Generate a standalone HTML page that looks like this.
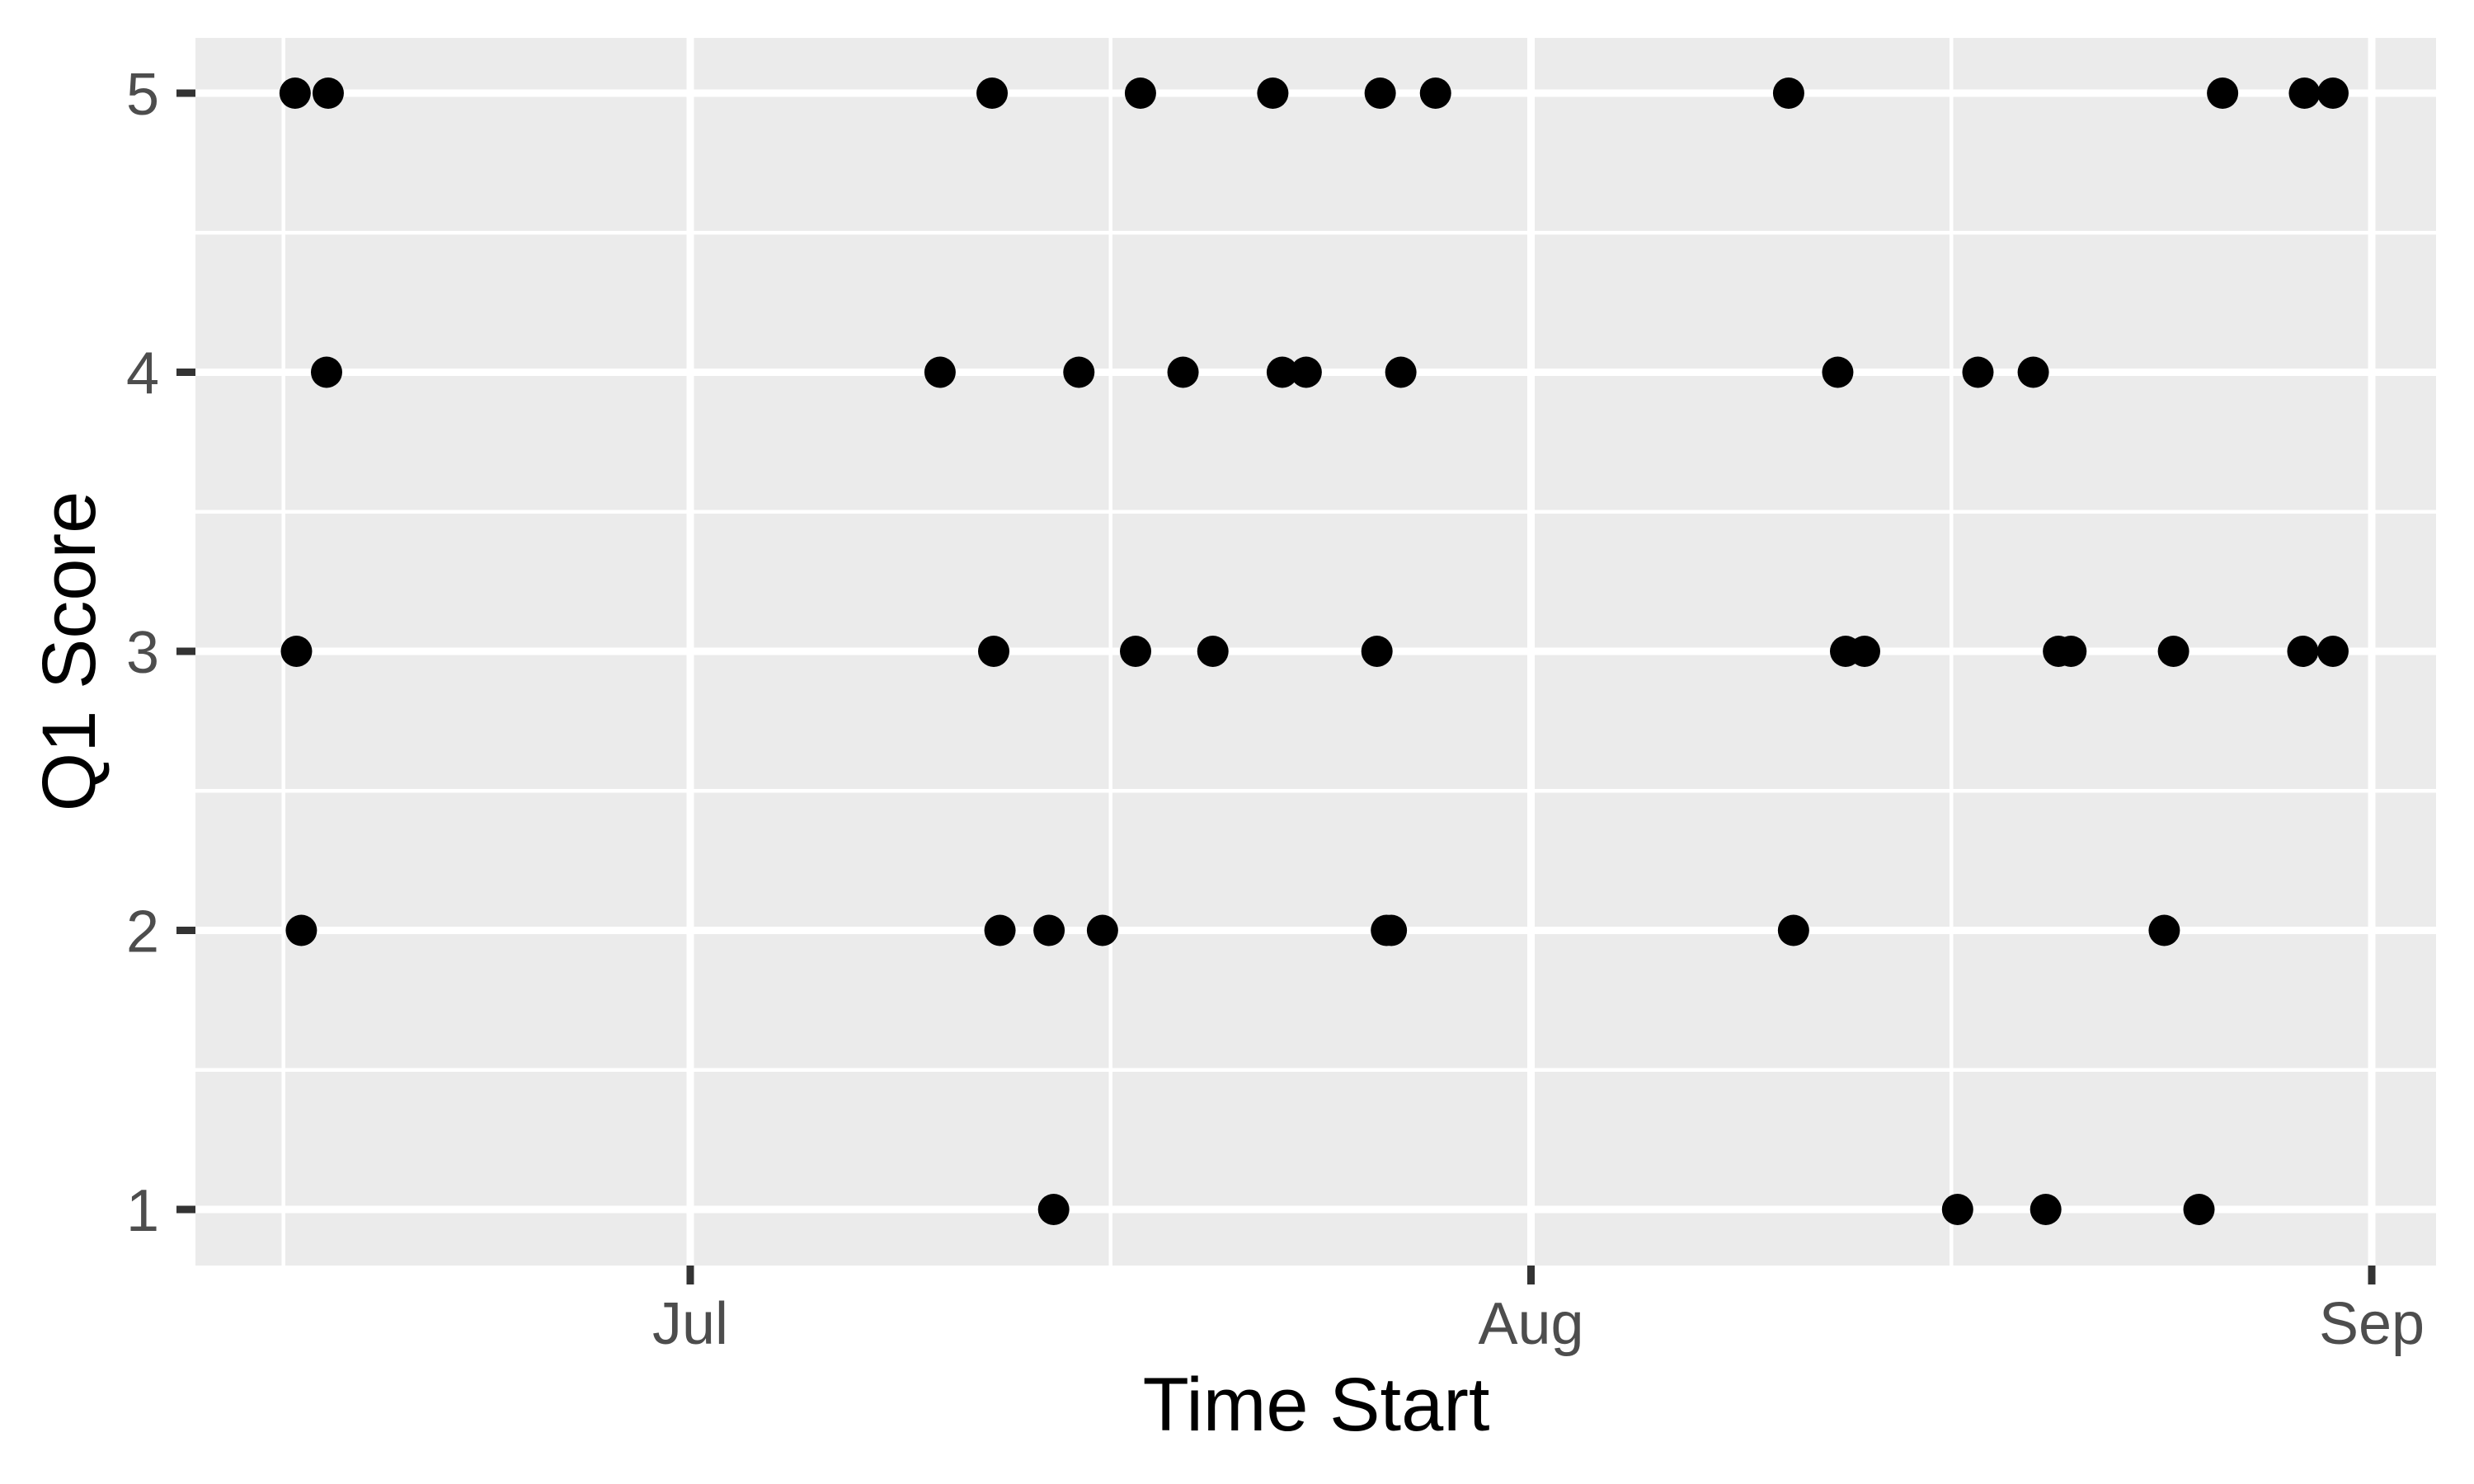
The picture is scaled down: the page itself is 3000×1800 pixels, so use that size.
<!DOCTYPE html>
<html><head><meta charset="utf-8"><style>html,body{margin:0;padding:0;background:#fff}svg{display:block}</style></head>
<body>
<svg id="chart" width="3000" height="1800" viewBox="0 0 3000 1800" xmlns="http://www.w3.org/2000/svg">
<rect x="0" y="0" width="3000" height="1800" fill="#fff"/>
<rect x="237" y="46" width="2717" height="1489" fill="#EBEBEB"/>
<g id="grid"></g>
<g id="axes"></g>
<g id="points"></g>
<text x="1596" y="1735" font-family="Liberation Sans, sans-serif" font-size="92" text-anchor="middle" fill="#000">Time Start</text>
<text transform="translate(115,790) rotate(-90)" font-family="Liberation Sans, sans-serif" font-size="92" text-anchor="middle" fill="#000">Q1 Score</text>
</svg>
<script>
// days since Jul 1
const daysScore5 = [-14.57,-13.35,11.13,16.60,21.48,25.44,27.48,40.50,56.50,59.52,60.57];
const daysScore4 = [-13.41,9.21,14.33,18.17,21.83,22.71,26.20,42.31,47.48,49.52];
const daysScore3 = [-14.52,11.19,16.42,19.27,25.32,42.60,43.30,50.45,50.91,54.69,59.46,60.57];
const daysScore2 = [-14.34,11.42,13.23,15.20,25.67,25.85,40.68,54.35];
const daysScore1 = [13.40,46.73,49.98,55.63];
const yTicks = [1,2,3,4,5];
const xTickLabels = ["Jul","Aug","Sep"];
const xTickDays = [0,31,62];
const xMinorDays = [-15,15.5,46.5];

const NS="http://www.w3.org/2000/svg";
const X0=237, X1=2954, Y0=46, Y1=1535;
function xs(d){return 837 + d*32.887;}
function ys(v){return 1467 - (v-1)*338.5;}
function mk(tag,attrs,parent){const e=document.createElementNS(NS,tag);for(const k in attrs)e.setAttribute(k,attrs[k]);parent.appendChild(e);return e;}
const grid=document.getElementById('grid'), axes=document.getElementById('axes'), pts=document.getElementById('points');

for(let v=1.5; v<=4.5; v+=1){
  const l=mk('line',{x1:X0,x2:X1,y1:ys(v),y2:ys(v),stroke:'#fff','stroke-width':4.5},grid);
  
  
}
xMinorDays.forEach(d=>{
  const l=mk('line',{x1:xs(d),x2:xs(d),y1:Y0,y2:Y1,stroke:'#fff','stroke-width':4.5},grid);
  
  
});
yTicks.forEach(v=>{
  const l=mk('line',{x1:X0,x2:X1,y1:ys(v),y2:ys(v),stroke:'#fff','stroke-width':9},grid);
  
  
  const t=mk('line',{x1:X0-23,x2:X0,y1:ys(v),y2:ys(v),stroke:'#333','stroke-width':9},axes);
  
  
  const tx=mk('text',{x:193,y:ys(v)+26,'font-family':'Liberation Sans, sans-serif','font-size':72,'text-anchor':'end',fill:'#4D4D4D'},axes);
  tx.textContent=v;
  
  
});
xTickDays.forEach((d,i)=>{
  const l=mk('line',{x1:xs(d),x2:xs(d),y1:Y0,y2:Y1,stroke:'#fff','stroke-width':9},grid);
  
  
  const t=mk('line',{x1:xs(d),x2:xs(d),y1:Y1,y2:Y1+23,stroke:'#333','stroke-width':9},axes);
  
  
  const tx=mk('text',{x:xs(d),y:1630,'font-family':'Liberation Sans, sans-serif','font-size':72,'text-anchor':'middle',fill:'#4D4D4D'},axes);
  tx.textContent=xTickLabels[i];
  
  
});
[[5,daysScore5],[4,daysScore4],[3,daysScore3],[2,daysScore2],[1,daysScore1]].forEach(([s,arr])=>{
  arr.forEach(d=>{
    const c=mk('circle',{cx:xs(d),cy:ys(s),r:19,fill:'#000'},pts);
    
    
  });
});
</script>
</body></html>
